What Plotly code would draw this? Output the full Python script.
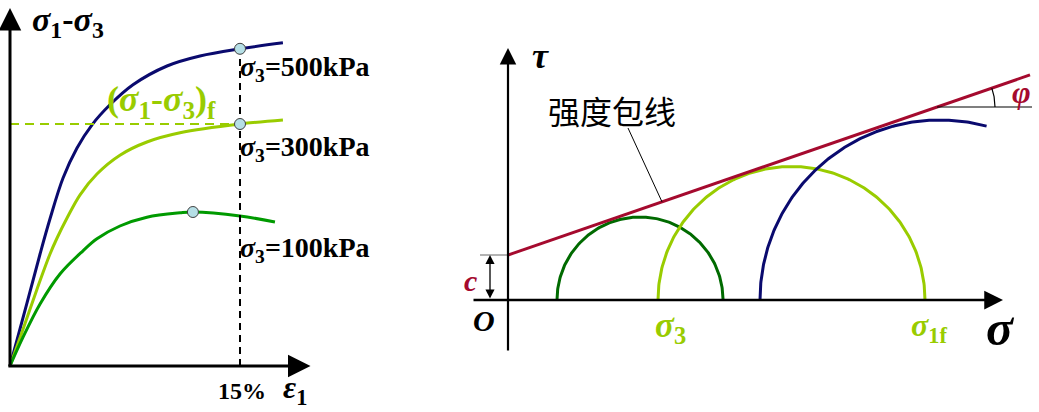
import plotly.graph_objects as go
import numpy as np

# ---------------- data ----------------
# left panel: stress-strain curves (axial strain %, deviator stress kPa)
strain_500 = [0, 1.11, 1.96, 2.61, 3.46, 4.37, 5.35, 6.52, 8.02, 10.24, 12.39, 15.0, 17.8]
dev_500 = [0, 158, 280, 368, 470, 545, 603, 653, 703, 750, 775, 793, 808]
strain_300 = [0, 0.85, 1.76, 2.61, 3.07, 3.72, 4.57, 5.67, 7.17, 8.93, 11.09, 15.0, 17.8]
dev_300 = [0, 92, 192, 280, 320, 370, 428, 480, 527, 560, 583, 605, 615]
strain_100 = [0, 0.85, 1.96, 3.26, 4.76, 5.67, 7.17, 8.93, 11.09, 11.93, 15.0, 17.28]
dev_100 = [0, 72, 155, 230, 288, 318, 350, 372, 383, 385, 375, 360]
fail_strain = [15.0, 15.0, 11.93]
fail_dev = [793, 605, 385]
strain_limit = 15.0

# right panel: Mohr circles (sigma3, sigma1) and envelope
circle_s3 = [49, 150, 252]
circle_s1 = [215, 417, 612]
circle_end_deg = [0, 0, 75]
cohesion = 45
tan_phi = 0.345
env_sigma_max = 522

NAVY = "#0a0a6e"
LGREEN = "#99cc00"
DGREEN = "#009a00"
DGREEN2 = "#006a00"
RED = "#a50a2e"
DOT = "#b5dfe6"
SERIF = "Liberation Serif"

fig = go.Figure()

# ---------------- left panel ----------------
for xs, ys, col in [(strain_500, dev_500, NAVY), (strain_300, dev_300, LGREEN), (strain_100, dev_100, DGREEN)]:
    fig.add_trace(go.Scatter(x=xs, y=ys, mode="lines", line=dict(color=col, width=3, shape="spline", smoothing=1.0),
                             xaxis="x", yaxis="y", hoverinfo="skip"))

# dashed guides
fig.add_trace(go.Scatter(x=[strain_limit, strain_limit], y=[0, fail_dev[0]], mode="lines",
                         line=dict(color="black", width=2, dash="7px,5px"), xaxis="x", yaxis="y"))
fig.add_trace(go.Scatter(x=[0, strain_limit], y=[fail_dev[1], fail_dev[1]], mode="lines",
                         line=dict(color=LGREEN, width=2, dash="9px,6px"), xaxis="x", yaxis="y"))
fig.add_trace(go.Scatter(x=fail_strain, y=fail_dev, mode="markers",
                         marker=dict(size=11, color=DOT, line=dict(color="#404040", width=1)),
                         xaxis="x", yaxis="y"))

# ---------------- right panel ----------------
colors_c = [DGREEN2, LGREEN, NAVY]
for s3, s1, endd, col in zip(circle_s3, circle_s1, circle_end_deg, colors_c):
    cen = (s1 + s3) / 2
    r = (s1 - s3) / 2
    th = np.radians(np.linspace(180, endd, 200))
    fig.add_trace(go.Scatter(x=cen + r * np.cos(th), y=r * np.sin(th), mode="lines",
                             line=dict(color=col, width=3), xaxis="x2", yaxis="y2"))

env_s = np.array([0, env_sigma_max])
fig.add_trace(go.Scatter(x=env_s, y=cohesion + tan_phi * env_s, mode="lines",
                         line=dict(color=RED, width=3), xaxis="x2", yaxis="y2"))

# phi angle reference
s_ref = (193 - cohesion) / tan_phi
tau_ref = cohesion + tan_phi * s_ref
fig.add_trace(go.Scatter(x=[s_ref, env_sigma_max + 2], y=[tau_ref, tau_ref], mode="lines",
                         line=dict(color="black", width=1.2), xaxis="x2", yaxis="y2"))
phi = np.arctan(tan_phi)
ang = np.linspace(0, phi, 30)
fig.add_trace(go.Scatter(x=s_ref + 58 * np.cos(ang), y=tau_ref + 58 * np.sin(ang), mode="lines",
                         line=dict(color="black", width=1.2), xaxis="x2", yaxis="y2"))

# c tick
fig.add_trace(go.Scatter(x=[-28, 0], y=[cohesion, cohesion], mode="lines",
                         line=dict(color="#808080", width=1.2), xaxis="x2", yaxis="y2"))
# leader line for label
lead_s = 154
fig.add_trace(go.Scatter(x=[120, lead_s], y=[172, cohesion + tan_phi * lead_s], mode="lines",
                         line=dict(color="black", width=1), xaxis="x2", yaxis="y2"))

# ---------------- axes arrows ----------------
def arrow(x, y, ax, ay, xr, yr, w=3, size=1.0, side="end", head=2):
    fig.add_annotation(x=x, y=y, ax=ax, ay=ay, xref=xr, yref=yr, axref=xr, ayref=yr, text="",
                       showarrow=True, arrowhead=head, arrowsize=size, arrowwidth=w, arrowcolor="black",
                       arrowside=side, startarrowhead=head, startarrowsize=size)

arrow(0, 895, 0, -5, "x", "y", size=1.5)
arrow(19.6, 0, -0.2, 0, "x", "y", size=1.5)
arrow(495, 0, -36, 0, "x2", "y2", w=2.5, size=1.5)
arrow(0, 252, 0, -52, "x2", "y2", w=2.2, size=1.5)
arrow(-18, cohesion, -18, 0, "x2", "y2", w=1.3, size=1.4, side="end+start")

# ---------------- text ----------------
def txt(x, y, s, xr, yr, size, color="black", xa="center", ya="middle", fam=SERIF):
    fig.add_annotation(x=x, y=y, xref=xr, yref=yr, text=s, showarrow=False, xanchor=xa, yanchor=ya,
                       font=dict(family=fam, size=size, color=color))

txt(1.30, 860, "<b><i>σ</i><sub>1</sub>-<i>σ</i><sub>3</sub></b>", "x", "y", 34, xa="left")
txt(14.87, 745, "<b><i>σ</i><sub>3</sub>=500kPa</b>", "x", "y", 28, xa="left")
txt(14.87, 545, "<b><i>σ</i><sub>3</sub>=300kPa</b>", "x", "y", 28, xa="left")
txt(14.87, 292, "<b><i>σ</i><sub>3</sub>=100kPa</b>", "x", "y", 28, xa="left")
txt(6.2, 662, "<b>(<i>σ</i><sub>1</sub>-<i>σ</i><sub>3</sub>)<sub>f</sub></b>", "x", "y", 36, color=LGREEN, xa="left")
txt(15.13, -62, "<b>15%</b>", "x", "y", 24)
txt(17.7, -58, "<b><i>ε</i><sub>1</sub></b>", "x", "y", 32, xa="left")

txt(32, 244, "<b><i>τ</i></b>", "x2", "y2", 36)
txt(104, 190, "强度包线", "x2", "y2", 32, fam="Noto Sans CJK SC")
txt(-38, 20, "<b><i>c</i></b>", "x2", "y2", 30, color=RED)
txt(-24, -20, "<b><i>O</i></b>", "x2", "y2", 30)
txt(162, -27, "<b><i>σ</i><sub>3</sub></b>", "x2", "y2", 35, color=LGREEN)
txt(421, -27, "<b><i>σ</i><sub>1f</sub></b>", "x2", "y2", 32, color=LGREEN)
txt(492, -28, "<b><i>σ</i></b>", "x2", "y2", 50)
txt(513, 208, "<b><i>φ</i></b>", "x2", "y2", 32, color=RED)

fig.update_layout(
    width=1039, height=412, autosize=False,
    margin=dict(l=0, r=0, t=0, b=0),
    paper_bgcolor="white", plot_bgcolor="white",
    showlegend=False,
    xaxis=dict(range=[-10 / 15.333, 1029 / 15.333], visible=False, domain=[0, 1]),
    yaxis=dict(range=[-115, 915], visible=False, domain=[0, 1]),
    xaxis2=dict(range=[-508, 531], visible=False, overlaying="x", anchor="y2"),
    yaxis2=dict(range=[-112, 300], visible=False, overlaying="y", anchor="x2"),
)

fig.write_html("out.html", config={"displayModeBar": False},
               post_script="document.body.style.margin='0px';document.body.style.overflow='hidden';")
